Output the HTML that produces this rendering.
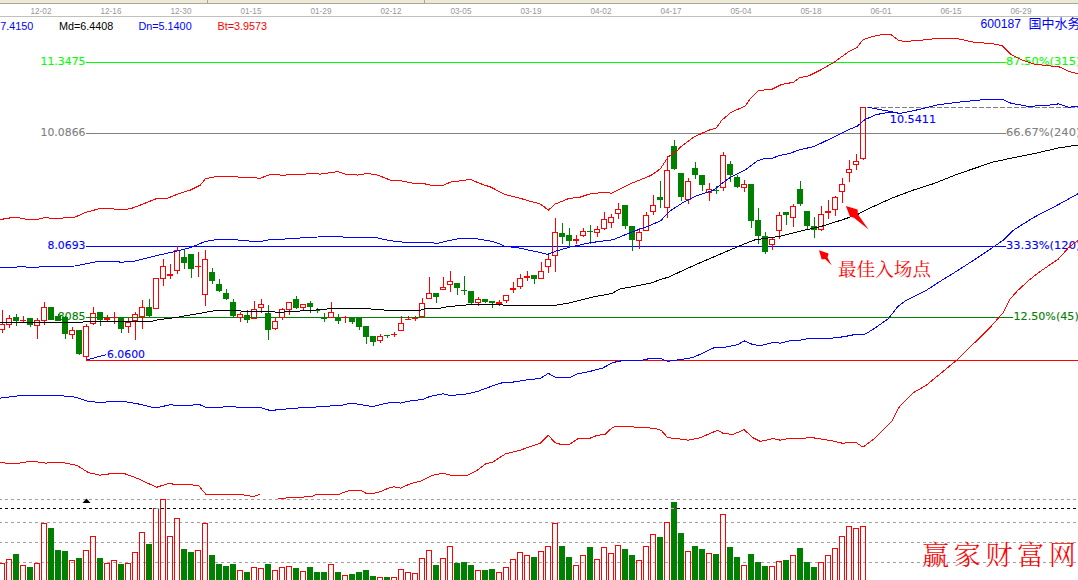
<!DOCTYPE html>
<html lang="zh"><head><meta charset="utf-8"><title>600187 国中水务</title>
<style>html,body{margin:0;padding:0;background:#fff;overflow:hidden}svg{display:block}text{font-family:"Liberation Sans","Noto Sans CJK SC",sans-serif}.v{font-family:"DejaVu Sans","Liberation Sans",sans-serif;font-size:11px}.d{font-size:8.2px;fill:#999}.i{font-size:10.8px}</style></head><body>
<svg width="1078" height="580" viewBox="0 0 1078 580">
<rect x="0" y="0" width="1078" height="580" fill="#fff"/>
<g shape-rendering="crispEdges">
<rect x="0" y="0" width="1078" height="3" fill="#ece9d8"/>
<rect x="0" y="3" width="1078" height="1" fill="#aca899"/>
<rect x="207" y="0" width="1" height="3" fill="#aca899"/><rect x="424" y="0" width="1" height="3" fill="#aca899"/>
<rect x="0" y="16" width="1078" height="1" fill="#c0c0c0"/>
</g>
<text class="d" x="30.5" y="14">12-02</text>
<text class="d" x="100.5" y="14">12-16</text>
<text class="d" x="170.5" y="14">12-30</text>
<text class="d" x="240.5" y="14">01-15</text>
<text class="d" x="310.5" y="14">01-29</text>
<text class="d" x="380.5" y="14">02-12</text>
<text class="d" x="450.5" y="14">03-05</text>
<text class="d" x="520.5" y="14">03-19</text>
<text class="d" x="590.5" y="14">04-02</text>
<text class="d" x="660.5" y="14">04-17</text>
<text class="d" x="730.5" y="14">05-04</text>
<text class="d" x="800.5" y="14">05-18</text>
<text class="d" x="870.5" y="14">06-01</text>
<text class="d" x="940.5" y="14">06-15</text>
<text class="d" x="1010.5" y="14">06-29</text>
<text class="i" x="0.3" y="30" fill="#0000ff">7.4150</text>
<text class="i" x="59" y="30" fill="#000">Md=6.4408</text>
<text class="i" x="138.5" y="30" fill="#0000ff">Dn=5.1400</text>
<text class="i" x="217.5" y="30" fill="#ff0000">Bt=3.9573</text>
<text x="980.5" y="28.4" fill="#0000ff" style="font-size:13px" textLength="40.5" lengthAdjust="spacingAndGlyphs">600187</text>
<text x="1028.6" y="28.2" fill="#0000ff" style="font-size:13px;font-family:'Noto Sans CJK SC',sans-serif;font-weight:400">国中水务</text>
<g shape-rendering="crispEdges" stroke-width="1" fill="none">
<line x1="86" y1="62.5" x2="1006" y2="62.5" stroke="#00ff00"/>
<line x1="86" y1="133.5" x2="1006" y2="133.5" stroke="#808080"/>
<line x1="86" y1="246.5" x2="1006" y2="246.5" stroke="#0000ff"/>
<line x1="86" y1="317.5" x2="1013" y2="317.5" stroke="#008000"/>
<line x1="86" y1="360.5" x2="1078" y2="360.5" stroke="#ff0000"/>
<line x1="867" y1="107.5" x2="1078" y2="107.5" stroke="#808080" stroke-dasharray="5 2"/>
</g>
<line x1="86.5" y1="360" x2="106.5" y2="354.5" stroke="#0000ff" stroke-width="1" shape-rendering="crispEdges"/>
<line x1="868" y1="107.3" x2="900" y2="113.3" stroke="#0000ff" stroke-width="1" shape-rendering="crispEdges"/>
<text class="v" x="40.5" y="65" fill="#00ff00" stroke="#00ff00" stroke-width="0.1" text-anchor="start" textLength="45" lengthAdjust="spacingAndGlyphs">11.3475</text>
<text class="v" x="40.5" y="136" fill="#808080" stroke="#808080" stroke-width="0.1" text-anchor="start" textLength="45" lengthAdjust="spacingAndGlyphs">10.0866</text>
<text class="v" x="47.5" y="249" fill="#0000ff" stroke="#0000ff" stroke-width="0.1" text-anchor="start" textLength="38" lengthAdjust="spacingAndGlyphs">8.0693</text>
<text class="v" x="47.5" y="320" fill="#008000" stroke="#008000" stroke-width="0.1" text-anchor="start" textLength="38" lengthAdjust="spacingAndGlyphs">6.8085</text>
<text class="v" x="107" y="358" fill="#0000ff" stroke="#0000ff" stroke-width="0.1" text-anchor="start" textLength="38" lengthAdjust="spacingAndGlyphs">6.0600</text>
<text class="v" x="889.8" y="123" fill="#0000ff" stroke="#0000ff" stroke-width="0.1" text-anchor="start" textLength="46.2" lengthAdjust="spacingAndGlyphs">10.5411</text>
<text class="v" x="1006" y="65" fill="#00ff00" stroke="#00ff00" stroke-width="0.1" text-anchor="start" textLength="74.4" lengthAdjust="spacingAndGlyphs">87.50%(315)</text>
<text class="v" x="1006" y="136" fill="#808080" stroke="#808080" stroke-width="0.1" text-anchor="start" textLength="74.4" lengthAdjust="spacingAndGlyphs">66.67%(240)</text>
<text class="v" x="1006" y="249" fill="#0000ff" stroke="#0000ff" stroke-width="0.1" text-anchor="start" textLength="74.4" lengthAdjust="spacingAndGlyphs">33.33%(120)</text>
<text class="v" x="1013.5" y="320" fill="#008000" stroke="#008000" stroke-width="0.1" text-anchor="start" textLength="65.3" lengthAdjust="spacingAndGlyphs">12.50%(45)</text>
<g shape-rendering="crispEdges" stroke-width="1">
<rect x="-0.5" y="324.5" width="5" height="5" fill="none" stroke="#ff0000"/>
<line x1="2.5" y1="310" x2="2.5" y2="324" stroke="#ff0000"/>
<line x1="2.5" y1="330" x2="2.5" y2="333" stroke="#ff0000"/>
<rect x="6.5" y="318.5" width="5" height="6" fill="none" stroke="#ff0000"/>
<line x1="9.5" y1="315" x2="9.5" y2="318" stroke="#ff0000"/>
<line x1="9.5" y1="325" x2="9.5" y2="328" stroke="#ff0000"/>
<rect x="13" y="317" width="6" height="4" fill="#008000" stroke="none"/>
<line x1="16.5" y1="314" x2="16.5" y2="326" stroke="#008000"/>
<rect x="20" y="320" width="6" height="1" fill="#ff0000" stroke="none"/>
<line x1="23.5" y1="316" x2="23.5" y2="323" stroke="#ff0000"/>
<rect x="27" y="318" width="6" height="7" fill="#008000" stroke="none"/>
<line x1="30.5" y1="318" x2="30.5" y2="327" stroke="#008000"/>
<rect x="34.5" y="320.5" width="5" height="5" fill="none" stroke="#ff0000"/>
<line x1="37.5" y1="318" x2="37.5" y2="320" stroke="#ff0000"/>
<line x1="37.5" y1="326" x2="37.5" y2="339" stroke="#ff0000"/>
<rect x="41.5" y="307.5" width="5" height="13" fill="none" stroke="#ff0000"/>
<line x1="44.5" y1="302" x2="44.5" y2="307" stroke="#ff0000"/>
<line x1="44.5" y1="321" x2="44.5" y2="325" stroke="#ff0000"/>
<rect x="48" y="307" width="6" height="13" fill="#008000" stroke="none"/>
<rect x="55" y="316" width="6" height="5" fill="#008000" stroke="none"/>
<line x1="58.5" y1="314" x2="58.5" y2="321" stroke="#008000"/>
<rect x="62" y="317" width="6" height="17" fill="#008000" stroke="none"/>
<line x1="65.5" y1="316" x2="65.5" y2="339" stroke="#008000"/>
<rect x="69.5" y="330.5" width="5" height="4" fill="none" stroke="#ff0000"/>
<line x1="72.5" y1="327" x2="72.5" y2="330" stroke="#ff0000"/>
<line x1="72.5" y1="335" x2="72.5" y2="339" stroke="#ff0000"/>
<rect x="76" y="330" width="6" height="24" fill="#008000" stroke="none"/>
<line x1="79.5" y1="330" x2="79.5" y2="355" stroke="#008000"/>
<rect x="83.5" y="326.5" width="5" height="30" fill="none" stroke="#ff0000"/>
<line x1="86.5" y1="324" x2="86.5" y2="326" stroke="#ff0000"/>
<line x1="86.5" y1="357" x2="86.5" y2="361" stroke="#ff0000"/>
<rect x="90.5" y="313.5" width="5" height="10" fill="none" stroke="#ff0000"/>
<line x1="93.5" y1="307" x2="93.5" y2="313" stroke="#ff0000"/>
<line x1="93.5" y1="324" x2="93.5" y2="325" stroke="#ff0000"/>
<rect x="97" y="312" width="6" height="8" fill="#008000" stroke="none"/>
<line x1="100.5" y1="312" x2="100.5" y2="326" stroke="#008000"/>
<rect x="104" y="318" width="6" height="2" fill="#ff0000" stroke="none"/>
<line x1="107.5" y1="315" x2="107.5" y2="321" stroke="#ff0000"/>
<rect x="111" y="317" width="6" height="1" fill="#ff0000" stroke="none"/>
<line x1="114.5" y1="312" x2="114.5" y2="324" stroke="#ff0000"/>
<rect x="118" y="317" width="6" height="12" fill="#008000" stroke="none"/>
<line x1="121.5" y1="317" x2="121.5" y2="333" stroke="#008000"/>
<rect x="125.5" y="322.5" width="5" height="4" fill="none" stroke="#ff0000"/>
<line x1="128.5" y1="317" x2="128.5" y2="322" stroke="#ff0000"/>
<line x1="128.5" y1="327" x2="128.5" y2="333" stroke="#ff0000"/>
<rect x="132.5" y="314.5" width="5" height="6" fill="none" stroke="#ff0000"/>
<line x1="135.5" y1="312" x2="135.5" y2="314" stroke="#ff0000"/>
<line x1="135.5" y1="321" x2="135.5" y2="340" stroke="#ff0000"/>
<rect x="139.5" y="307.5" width="5" height="9" fill="none" stroke="#ff0000"/>
<line x1="142.5" y1="300" x2="142.5" y2="307" stroke="#ff0000"/>
<line x1="142.5" y1="317" x2="142.5" y2="329" stroke="#ff0000"/>
<rect x="146" y="307" width="6" height="9" fill="#008000" stroke="none"/>
<line x1="149.5" y1="299" x2="149.5" y2="317" stroke="#008000"/>
<rect x="153.5" y="278.5" width="5" height="30" fill="none" stroke="#ff0000"/>
<rect x="160.5" y="266.5" width="5" height="12" fill="none" stroke="#ff0000"/>
<line x1="163.5" y1="259" x2="163.5" y2="266" stroke="#ff0000"/>
<line x1="163.5" y1="279" x2="163.5" y2="286" stroke="#ff0000"/>
<rect x="167" y="274" width="6" height="2" fill="#ff0000" stroke="none"/>
<line x1="170.5" y1="264" x2="170.5" y2="279" stroke="#ff0000"/>
<rect x="174.5" y="250.5" width="5" height="20" fill="none" stroke="#ff0000"/>
<line x1="177.5" y1="246" x2="177.5" y2="250" stroke="#ff0000"/>
<line x1="177.5" y1="271" x2="177.5" y2="274" stroke="#ff0000"/>
<rect x="181" y="257" width="6" height="6" fill="#008000" stroke="none"/>
<line x1="184.5" y1="250" x2="184.5" y2="269" stroke="#008000"/>
<rect x="188" y="254" width="6" height="15" fill="#008000" stroke="none"/>
<line x1="191.5" y1="254" x2="191.5" y2="278" stroke="#008000"/>
<rect x="195" y="266" width="6" height="1" fill="#ff0000" stroke="none"/>
<line x1="198.5" y1="252" x2="198.5" y2="277" stroke="#ff0000"/>
<rect x="202.5" y="259.5" width="5" height="35" fill="none" stroke="#ff0000"/>
<line x1="205.5" y1="250" x2="205.5" y2="259" stroke="#ff0000"/>
<line x1="205.5" y1="295" x2="205.5" y2="306" stroke="#ff0000"/>
<rect x="209" y="272" width="6" height="9" fill="#008000" stroke="none"/>
<line x1="212.5" y1="268" x2="212.5" y2="284" stroke="#008000"/>
<rect x="216" y="284" width="6" height="7" fill="#008000" stroke="none"/>
<line x1="219.5" y1="279" x2="219.5" y2="292" stroke="#008000"/>
<rect x="223" y="293" width="6" height="6" fill="#008000" stroke="none"/>
<line x1="226.5" y1="289" x2="226.5" y2="300" stroke="#008000"/>
<rect x="230" y="302" width="6" height="14" fill="#008000" stroke="none"/>
<line x1="233.5" y1="299" x2="233.5" y2="317" stroke="#008000"/>
<rect x="237.5" y="314.5" width="5" height="3" fill="none" stroke="#ff0000"/>
<line x1="240.5" y1="312" x2="240.5" y2="314" stroke="#ff0000"/>
<line x1="240.5" y1="318" x2="240.5" y2="322" stroke="#ff0000"/>
<rect x="244" y="315" width="6" height="5" fill="#008000" stroke="none"/>
<line x1="247.5" y1="310" x2="247.5" y2="323" stroke="#008000"/>
<rect x="251.5" y="309.5" width="5" height="9" fill="none" stroke="#ff0000"/>
<line x1="254.5" y1="301" x2="254.5" y2="309" stroke="#ff0000"/>
<rect x="258.5" y="304.5" width="5" height="3" fill="none" stroke="#ff0000"/>
<line x1="261.5" y1="299" x2="261.5" y2="304" stroke="#ff0000"/>
<line x1="261.5" y1="308" x2="261.5" y2="313" stroke="#ff0000"/>
<rect x="265" y="313" width="6" height="17" fill="#008000" stroke="none"/>
<line x1="268.5" y1="305" x2="268.5" y2="340" stroke="#008000"/>
<rect x="272.5" y="321.5" width="5" height="7" fill="none" stroke="#ff0000"/>
<line x1="275.5" y1="318" x2="275.5" y2="321" stroke="#ff0000"/>
<line x1="275.5" y1="329" x2="275.5" y2="330" stroke="#ff0000"/>
<rect x="279.5" y="309.5" width="5" height="8" fill="none" stroke="#ff0000"/>
<line x1="282.5" y1="308" x2="282.5" y2="309" stroke="#ff0000"/>
<line x1="282.5" y1="318" x2="282.5" y2="320" stroke="#ff0000"/>
<rect x="286.5" y="302.5" width="5" height="7" fill="none" stroke="#ff0000"/>
<line x1="289.5" y1="310" x2="289.5" y2="315" stroke="#ff0000"/>
<rect x="293" y="299" width="6" height="9" fill="#008000" stroke="none"/>
<line x1="296.5" y1="296" x2="296.5" y2="309" stroke="#008000"/>
<rect x="300.5" y="304.5" width="5" height="3" fill="none" stroke="#ff0000"/>
<line x1="303.5" y1="308" x2="303.5" y2="311" stroke="#ff0000"/>
<rect x="307" y="303" width="6" height="4" fill="#008000" stroke="none"/>
<line x1="310.5" y1="301" x2="310.5" y2="313" stroke="#008000"/>
<rect x="314" y="310" width="6" height="1" fill="#008000" stroke="none"/>
<line x1="317.5" y1="308" x2="317.5" y2="313" stroke="#008000"/>
<rect x="321" y="318" width="6" height="1" fill="#008000" stroke="none"/>
<line x1="324.5" y1="313" x2="324.5" y2="322" stroke="#008000"/>
<rect x="328.5" y="312.5" width="5" height="5" fill="none" stroke="#ff0000"/>
<line x1="331.5" y1="302" x2="331.5" y2="312" stroke="#ff0000"/>
<rect x="335" y="317" width="6" height="4" fill="#008000" stroke="none"/>
<line x1="338.5" y1="314" x2="338.5" y2="324" stroke="#008000"/>
<rect x="342" y="317" width="6" height="1" fill="#ff0000" stroke="none"/>
<line x1="345.5" y1="316" x2="345.5" y2="323" stroke="#ff0000"/>
<rect x="349" y="317" width="6" height="5" fill="#008000" stroke="none"/>
<line x1="352.5" y1="317" x2="352.5" y2="324" stroke="#008000"/>
<rect x="356" y="317" width="6" height="10" fill="#008000" stroke="none"/>
<line x1="359.5" y1="317" x2="359.5" y2="330" stroke="#008000"/>
<rect x="363" y="326" width="6" height="11" fill="#008000" stroke="none"/>
<line x1="366.5" y1="326" x2="366.5" y2="344" stroke="#008000"/>
<rect x="370" y="336" width="6" height="6" fill="#008000" stroke="none"/>
<line x1="373.5" y1="336" x2="373.5" y2="346" stroke="#008000"/>
<rect x="377.5" y="336.5" width="5" height="4" fill="none" stroke="#ff0000"/>
<line x1="380.5" y1="334" x2="380.5" y2="336" stroke="#ff0000"/>
<line x1="380.5" y1="341" x2="380.5" y2="343" stroke="#ff0000"/>
<rect x="384" y="335" width="6" height="1" fill="#008000" stroke="none"/>
<line x1="387.5" y1="335" x2="387.5" y2="338" stroke="#008000"/>
<rect x="391" y="334" width="6" height="1" fill="#ff0000" stroke="none"/>
<line x1="394.5" y1="332" x2="394.5" y2="337" stroke="#ff0000"/>
<rect x="398.5" y="323.5" width="5" height="7" fill="none" stroke="#ff0000"/>
<line x1="401.5" y1="316" x2="401.5" y2="323" stroke="#ff0000"/>
<rect x="405" y="319" width="6" height="1" fill="#ff0000" stroke="none"/>
<line x1="408.5" y1="316" x2="408.5" y2="320" stroke="#ff0000"/>
<rect x="412" y="318" width="6" height="1" fill="#ff0000" stroke="none"/>
<line x1="415.5" y1="316" x2="415.5" y2="321" stroke="#ff0000"/>
<rect x="419.5" y="303.5" width="5" height="13" fill="none" stroke="#ff0000"/>
<line x1="422.5" y1="298" x2="422.5" y2="303" stroke="#ff0000"/>
<rect x="426.5" y="293.5" width="5" height="5" fill="none" stroke="#ff0000"/>
<line x1="429.5" y1="277" x2="429.5" y2="293" stroke="#ff0000"/>
<rect x="433" y="293" width="6" height="4" fill="#008000" stroke="none"/>
<line x1="436.5" y1="293" x2="436.5" y2="303" stroke="#008000"/>
<rect x="440.5" y="287.5" width="5" height="2" fill="none" stroke="#ff0000"/>
<line x1="443.5" y1="277" x2="443.5" y2="287" stroke="#ff0000"/>
<rect x="447.5" y="281.5" width="5" height="3" fill="none" stroke="#ff0000"/>
<line x1="450.5" y1="271" x2="450.5" y2="281" stroke="#ff0000"/>
<line x1="450.5" y1="285" x2="450.5" y2="292" stroke="#ff0000"/>
<rect x="454" y="283" width="6" height="5" fill="#008000" stroke="none"/>
<line x1="457.5" y1="283" x2="457.5" y2="295" stroke="#008000"/>
<rect x="461" y="290" width="6" height="1" fill="#008000" stroke="none"/>
<line x1="464.5" y1="276" x2="464.5" y2="295" stroke="#008000"/>
<rect x="468" y="291" width="6" height="12" fill="#008000" stroke="none"/>
<line x1="471.5" y1="291" x2="471.5" y2="304" stroke="#008000"/>
<rect x="475.5" y="299.5" width="5" height="3" fill="none" stroke="#ff0000"/>
<line x1="478.5" y1="297" x2="478.5" y2="299" stroke="#ff0000"/>
<line x1="478.5" y1="303" x2="478.5" y2="306" stroke="#ff0000"/>
<rect x="482" y="299" width="6" height="3" fill="#008000" stroke="none"/>
<line x1="485.5" y1="299" x2="485.5" y2="303" stroke="#008000"/>
<rect x="489" y="301" width="6" height="2" fill="#008000" stroke="none"/>
<line x1="492.5" y1="301" x2="492.5" y2="308" stroke="#008000"/>
<rect x="496" y="302" width="6" height="2" fill="#ff0000" stroke="none"/>
<line x1="499.5" y1="300" x2="499.5" y2="306" stroke="#ff0000"/>
<rect x="503.5" y="295.5" width="5" height="5" fill="none" stroke="#ff0000"/>
<line x1="506.5" y1="301" x2="506.5" y2="303" stroke="#ff0000"/>
<rect x="510" y="288" width="6" height="2" fill="#ff0000" stroke="none"/>
<line x1="513.5" y1="282" x2="513.5" y2="293" stroke="#ff0000"/>
<rect x="517.5" y="278.5" width="5" height="8" fill="none" stroke="#ff0000"/>
<line x1="520.5" y1="274" x2="520.5" y2="278" stroke="#ff0000"/>
<line x1="520.5" y1="287" x2="520.5" y2="289" stroke="#ff0000"/>
<rect x="524" y="276" width="6" height="2" fill="#ff0000" stroke="none"/>
<line x1="527.5" y1="271" x2="527.5" y2="281" stroke="#ff0000"/>
<rect x="531" y="275" width="6" height="4" fill="#008000" stroke="none"/>
<line x1="534.5" y1="275" x2="534.5" y2="284" stroke="#008000"/>
<rect x="538.5" y="271.5" width="5" height="7" fill="none" stroke="#ff0000"/>
<line x1="541.5" y1="262" x2="541.5" y2="271" stroke="#ff0000"/>
<rect x="545.5" y="259.5" width="5" height="7" fill="none" stroke="#ff0000"/>
<line x1="548.5" y1="254" x2="548.5" y2="259" stroke="#ff0000"/>
<line x1="548.5" y1="267" x2="548.5" y2="273" stroke="#ff0000"/>
<rect x="552.5" y="232.5" width="5" height="23" fill="none" stroke="#ff0000"/>
<line x1="555.5" y1="218" x2="555.5" y2="232" stroke="#ff0000"/>
<line x1="555.5" y1="256" x2="555.5" y2="272" stroke="#ff0000"/>
<rect x="559" y="233" width="6" height="4" fill="#008000" stroke="none"/>
<line x1="562.5" y1="223" x2="562.5" y2="244" stroke="#008000"/>
<rect x="566" y="235" width="6" height="6" fill="#008000" stroke="none"/>
<line x1="569.5" y1="228" x2="569.5" y2="247" stroke="#008000"/>
<rect x="573" y="239" width="6" height="2" fill="#ff0000" stroke="none"/>
<line x1="576.5" y1="235" x2="576.5" y2="244" stroke="#ff0000"/>
<rect x="580.5" y="231.5" width="5" height="4" fill="none" stroke="#ff0000"/>
<line x1="583.5" y1="228" x2="583.5" y2="231" stroke="#ff0000"/>
<line x1="583.5" y1="236" x2="583.5" y2="237" stroke="#ff0000"/>
<rect x="587" y="231" width="6" height="1" fill="#008000" stroke="none"/>
<line x1="590.5" y1="225" x2="590.5" y2="244" stroke="#008000"/>
<rect x="594.5" y="229.5" width="5" height="3" fill="none" stroke="#ff0000"/>
<line x1="597.5" y1="226" x2="597.5" y2="229" stroke="#ff0000"/>
<line x1="597.5" y1="233" x2="597.5" y2="237" stroke="#ff0000"/>
<rect x="601.5" y="219.5" width="5" height="9" fill="none" stroke="#ff0000"/>
<line x1="604.5" y1="212" x2="604.5" y2="219" stroke="#ff0000"/>
<line x1="604.5" y1="229" x2="604.5" y2="230" stroke="#ff0000"/>
<rect x="608.5" y="217.5" width="5" height="5" fill="none" stroke="#ff0000"/>
<line x1="611.5" y1="214" x2="611.5" y2="217" stroke="#ff0000"/>
<line x1="611.5" y1="223" x2="611.5" y2="228" stroke="#ff0000"/>
<rect x="615.5" y="209.5" width="5" height="4" fill="none" stroke="#ff0000"/>
<line x1="618.5" y1="203" x2="618.5" y2="209" stroke="#ff0000"/>
<line x1="618.5" y1="214" x2="618.5" y2="219" stroke="#ff0000"/>
<rect x="622" y="205" width="6" height="21" fill="#008000" stroke="none"/>
<line x1="625.5" y1="205" x2="625.5" y2="229" stroke="#008000"/>
<rect x="629" y="226" width="6" height="14" fill="#008000" stroke="none"/>
<line x1="632.5" y1="226" x2="632.5" y2="251" stroke="#008000"/>
<rect x="636.5" y="232.5" width="5" height="8" fill="none" stroke="#ff0000"/>
<line x1="639.5" y1="228" x2="639.5" y2="232" stroke="#ff0000"/>
<line x1="639.5" y1="241" x2="639.5" y2="249" stroke="#ff0000"/>
<rect x="643.5" y="215.5" width="5" height="15" fill="none" stroke="#ff0000"/>
<line x1="646.5" y1="212" x2="646.5" y2="215" stroke="#ff0000"/>
<rect x="650.5" y="205.5" width="5" height="6" fill="none" stroke="#ff0000"/>
<line x1="653.5" y1="195" x2="653.5" y2="205" stroke="#ff0000"/>
<line x1="653.5" y1="212" x2="653.5" y2="215" stroke="#ff0000"/>
<rect x="657" y="197" width="6" height="3" fill="#008000" stroke="none"/>
<line x1="660.5" y1="181" x2="660.5" y2="208" stroke="#008000"/>
<rect x="664.5" y="170.5" width="5" height="37" fill="none" stroke="#ff0000"/>
<line x1="667.5" y1="156" x2="667.5" y2="170" stroke="#ff0000"/>
<line x1="667.5" y1="208" x2="667.5" y2="218" stroke="#ff0000"/>
<rect x="671" y="146" width="6" height="23" fill="#008000" stroke="none"/>
<line x1="674.5" y1="140" x2="674.5" y2="170" stroke="#008000"/>
<rect x="678" y="173" width="6" height="24" fill="#008000" stroke="none"/>
<line x1="681.5" y1="173" x2="681.5" y2="201" stroke="#008000"/>
<rect x="685.5" y="181.5" width="5" height="18" fill="none" stroke="#ff0000"/>
<line x1="688.5" y1="178" x2="688.5" y2="181" stroke="#ff0000"/>
<line x1="688.5" y1="200" x2="688.5" y2="204" stroke="#ff0000"/>
<rect x="692" y="168" width="6" height="7" fill="#008000" stroke="none"/>
<line x1="695.5" y1="162" x2="695.5" y2="179" stroke="#008000"/>
<rect x="699" y="175" width="6" height="10" fill="#008000" stroke="none"/>
<line x1="702.5" y1="175" x2="702.5" y2="191" stroke="#008000"/>
<rect x="706.5" y="189.5" width="5" height="3" fill="none" stroke="#ff0000"/>
<line x1="709.5" y1="183" x2="709.5" y2="189" stroke="#ff0000"/>
<line x1="709.5" y1="193" x2="709.5" y2="201" stroke="#ff0000"/>
<rect x="713" y="190" width="6" height="1" fill="#008000" stroke="none"/>
<line x1="716.5" y1="186" x2="716.5" y2="194" stroke="#008000"/>
<rect x="720.5" y="155.5" width="5" height="32" fill="none" stroke="#ff0000"/>
<line x1="723.5" y1="152" x2="723.5" y2="155" stroke="#ff0000"/>
<line x1="723.5" y1="188" x2="723.5" y2="191" stroke="#ff0000"/>
<rect x="727" y="164" width="6" height="11" fill="#008000" stroke="none"/>
<line x1="730.5" y1="161" x2="730.5" y2="182" stroke="#008000"/>
<rect x="734" y="177" width="6" height="10" fill="#008000" stroke="none"/>
<line x1="737.5" y1="175" x2="737.5" y2="188" stroke="#008000"/>
<rect x="741.5" y="184.5" width="5" height="3" fill="none" stroke="#ff0000"/>
<line x1="744.5" y1="180" x2="744.5" y2="184" stroke="#ff0000"/>
<line x1="744.5" y1="188" x2="744.5" y2="192" stroke="#ff0000"/>
<rect x="748" y="184" width="6" height="37" fill="#008000" stroke="none"/>
<line x1="751.5" y1="184" x2="751.5" y2="228" stroke="#008000"/>
<rect x="755" y="220" width="6" height="16" fill="#008000" stroke="none"/>
<line x1="758.5" y1="208" x2="758.5" y2="244" stroke="#008000"/>
<rect x="762" y="236" width="6" height="16" fill="#008000" stroke="none"/>
<line x1="765.5" y1="232" x2="765.5" y2="254" stroke="#008000"/>
<rect x="769.5" y="239.5" width="5" height="5" fill="none" stroke="#ff0000"/>
<line x1="772.5" y1="237" x2="772.5" y2="239" stroke="#ff0000"/>
<line x1="772.5" y1="245" x2="772.5" y2="250" stroke="#ff0000"/>
<rect x="776.5" y="215.5" width="5" height="15" fill="none" stroke="#ff0000"/>
<line x1="779.5" y1="212" x2="779.5" y2="215" stroke="#ff0000"/>
<line x1="779.5" y1="231" x2="779.5" y2="239" stroke="#ff0000"/>
<rect x="783" y="212" width="6" height="3" fill="#008000" stroke="none"/>
<line x1="786.5" y1="212" x2="786.5" y2="225" stroke="#008000"/>
<rect x="790.5" y="206.5" width="5" height="11" fill="none" stroke="#ff0000"/>
<line x1="793.5" y1="204" x2="793.5" y2="206" stroke="#ff0000"/>
<line x1="793.5" y1="218" x2="793.5" y2="227" stroke="#ff0000"/>
<rect x="797" y="189" width="6" height="15" fill="#008000" stroke="none"/>
<line x1="800.5" y1="181" x2="800.5" y2="206" stroke="#008000"/>
<rect x="804" y="211" width="6" height="15" fill="#008000" stroke="none"/>
<line x1="807.5" y1="211" x2="807.5" y2="230" stroke="#008000"/>
<rect x="811" y="226" width="6" height="4" fill="#008000" stroke="none"/>
<line x1="814.5" y1="217" x2="814.5" y2="238" stroke="#008000"/>
<rect x="818.5" y="214.5" width="5" height="15" fill="none" stroke="#ff0000"/>
<line x1="821.5" y1="206" x2="821.5" y2="214" stroke="#ff0000"/>
<line x1="821.5" y1="230" x2="821.5" y2="231" stroke="#ff0000"/>
<rect x="825" y="211" width="6" height="2" fill="#ff0000" stroke="none"/>
<line x1="828.5" y1="200" x2="828.5" y2="219" stroke="#ff0000"/>
<rect x="832.5" y="197.5" width="5" height="12" fill="none" stroke="#ff0000"/>
<line x1="835.5" y1="196" x2="835.5" y2="197" stroke="#ff0000"/>
<line x1="835.5" y1="210" x2="835.5" y2="216" stroke="#ff0000"/>
<rect x="839.5" y="184.5" width="5" height="7" fill="none" stroke="#ff0000"/>
<line x1="842.5" y1="178" x2="842.5" y2="184" stroke="#ff0000"/>
<line x1="842.5" y1="192" x2="842.5" y2="203" stroke="#ff0000"/>
<rect x="846.5" y="169.5" width="5" height="3" fill="none" stroke="#ff0000"/>
<line x1="849.5" y1="160" x2="849.5" y2="169" stroke="#ff0000"/>
<line x1="849.5" y1="173" x2="849.5" y2="182" stroke="#ff0000"/>
<rect x="853.5" y="161.5" width="5" height="3" fill="none" stroke="#ff0000"/>
<line x1="856.5" y1="154" x2="856.5" y2="161" stroke="#ff0000"/>
<line x1="856.5" y1="165" x2="856.5" y2="170" stroke="#ff0000"/>
<rect x="860.5" y="107.5" width="5" height="51" fill="none" stroke="#ff0000"/>
<line x1="863.5" y1="159" x2="863.5" y2="160" stroke="#ff0000"/>
</g>
<clipPath id="c"><rect x="0" y="17" width="1078" height="483"/></clipPath>
<g clip-path="url(#c)" fill="none" stroke-width="1" shape-rendering="crispEdges">
<polyline points="0.0,219.6 15.0,217.1 27.5,219.4 37.6,219.4 45.1,217.6 55.1,218.6 75.1,217.1 85.2,212.6 100.2,208.4 110.2,208.4 117.7,209.6 130.2,208.9 140.2,205.1 157.8,198.1 167.8,198.1 180.3,193.1 190.3,190.1 200.4,185.1 205.4,178.8 217.9,176.3 235.4,176.3 240.4,177.6 260.5,178.1 270.0,174.6 282.5,175.1 302.6,174.6 310.0,173.4 320.0,174.1 337.6,171.6 345.1,174.1 357.7,175.1 367.7,173.4 377.7,175.1 390.2,180.1 400.2,180.6 412.7,183.1 422.8,183.4 430.3,185.1 444.0,185.1 450.3,182.1 460.3,180.9 470.3,179.4 482.9,184.6 490.4,186.9 505.4,194.7 520.4,198.4 530.5,201.4 540.0,203.9 545.0,207.4 548.2,210.3 555.3,204.0 568.5,198.6 580.2,197.1 589.0,194.2 603.7,192.3 611.7,193.2 630.0,183.9 650.6,175.6 657.9,170.7 660.9,168.0 668.2,157.0 677.0,151.1 680.0,147.3 693.4,137.3 708.4,130.3 716.0,128.3 721.8,120.2 731.0,112.4 745.2,106.0 750.3,98.8 758.3,90.5 772.0,89.3 782.0,84.3 793.7,82.3 799.6,77.6 808.0,76.2 818.8,70.9 833.9,62.5 848.0,52.1 856.8,47.6 863.1,39.6 873.1,36.3 883.1,34.3 890.6,34.3 898.2,40.1 903.2,41.3 915.7,40.8 938.2,38.3 955.8,38.3 973.3,42.1 993.3,43.8 1002.1,45.8 1010.9,54.6 1020.9,59.6 1033.4,63.9 1048.4,65.9 1058.4,66.4 1068.5,71.4 1078.0,73.9" stroke="#ff0000"/>
<polyline points="0.0,267.7 25.0,266.7 27.5,267.7 37.6,267.7 40.0,266.7 75.1,266.0 97.7,261.5 117.7,261.5 120.2,262.2 132.7,261.5 155.3,255.9 175.3,251.4 190.3,247.7 205.4,241.4 217.9,239.4 235.4,239.4 240.4,240.7 260.5,241.4 270.0,239.7 285.0,239.0 307.6,237.5 327.6,236.5 340.1,236.5 345.1,237.5 375.2,237.5 390.2,240.7 405.2,242.3 430.3,242.3 436.5,243.5 455.3,239.2 462.8,238.2 472.9,238.2 490.4,241.0 500.0,244.0 504.4,246.3 517.6,247.7 538.0,252.1 547.7,254.3 557.2,250.7 570.4,247.0 591.0,242.6 613.0,239.7 633.0,231.6 647.6,226.5 660.8,220.6 669.7,211.2 684.3,201.7 697.5,195.4 713.7,190.0 723.9,181.9 731.2,176.8 745.9,169.5 757.6,160.7 765.0,158.5 772.3,158.2 779.6,155.5 790.0,153.3 800.4,149.5 813.8,146.7 830.6,138.6 847.3,130.3 857.3,126.1 864.5,119.9 875.6,114.7 888.1,112.5 900.7,113.2 915.7,110.2 938.2,104.7 958.3,102.2 983.3,99.7 1003.3,99.7 1010.9,103.2 1028.4,106.4 1048.4,105.2 1058.4,103.9 1068.5,107.2 1078.0,106.4" stroke="#0000ff"/>
<polyline points="0.0,322.5 82.0,322.5 84.0,321.5 152.0,321.5 153.5,320.5 160.0,319.6 167.0,318.6 175.3,317.6 215.4,310.6 235.4,310.6 250.0,311.7 272.0,311.7 279.3,312.4 292.5,311.4 314.5,310.2 320.4,309.5 335.0,308.4 370.2,308.4 371.7,309.5 383.8,309.3 384.5,310.5 419.0,310.5 424.9,308.7 439.5,308.3 446.8,306.8 461.5,305.3 477.6,304.3 501.0,304.3 504.0,305.3 523.5,305.6 551.3,306.0 570.4,302.7 593.8,296.8 611.7,293.6 620.0,288.9 633.5,286.6 653.5,282.4 660.2,279.4 668.6,277.2 687.0,268.5 707.0,259.8 723.8,252.6 742.2,244.8 753.9,240.1 767.3,238.1 780.0,236.2 798.7,231.5 820.6,226.6 842.6,219.7 857.3,214.6 868.1,208.9 893.2,197.6 913.2,190.1 933.2,183.8 958.3,173.8 993.3,162.0 1008.4,158.8 1033.4,153.8 1058.4,148.0 1078.0,145.0" stroke="#000"/>
<polyline points="0.0,398.2 19.7,395.6 60.6,395.6 75.4,397.2 88.5,401.5 101.6,402.5 111.4,401.5 124.5,401.5 137.6,403.8 155.6,408.0 170.4,404.7 178.6,405.7 199.9,404.7 204.8,407.0 222.8,407.0 229.4,406.4 245.7,408.0 260.5,407.4 270.0,410.5 280.0,409.6 295.0,408.1 312.6,407.6 320.0,406.4 340.1,405.6 350.1,403.4 357.7,404.1 372.7,406.6 380.2,404.6 392.7,402.1 400.2,403.1 410.2,400.9 422.8,399.4 430.3,396.3 442.8,393.8 450.3,395.6 467.8,393.8 477.9,391.3 487.9,387.6 500.4,383.1 512.9,382.1 525.4,380.1 540.0,378.5 548.3,373.4 555.0,377.1 570.0,377.6 577.6,373.9 590.1,371.4 602.6,368.1 612.6,362.6 622.6,360.6 642.7,360.1 650.2,358.4 660.2,358.4 667.7,361.4 680.2,359.6 692.8,357.6 702.8,353.1 715.3,347.1 725.3,347.1 737.8,344.6 744.1,340.8 752.9,344.6 760.4,345.6 772.9,342.6 780.4,343.1 790.4,340.6 800.5,340.1 810.0,338.2 830.9,338.3 844.0,336.7 857.1,334.1 863.7,335.0 873.5,329.1 888.3,318.7 898.1,306.2 906.3,300.3 926.0,290.5 942.3,280.0 958.3,270.2 983.3,253.9 1003.3,240.2 1013.4,230.2 1033.4,217.6 1058.4,204.6 1078.0,193.8" stroke="#0000ff"/>
<polyline points="0.0,462.7 16.4,463.7 31.1,461.1 45.9,463.1 60.6,462.1 77.0,465.4 88.5,472.6 99.9,475.2 111.4,473.6 124.5,473.6 137.6,478.5 156.6,487.3 168.7,483.4 178.6,485.0 190.0,484.4 198.9,486.0 205.8,494.2 240.0,494.3 245.6,495.2 253.0,496.5 260.4,494.3" stroke="#ff0000"/>
<polyline points="274.6,499.5 286.4,498.0 299.4,497.5 312.4,496.2 317.0,494.3 339.3,494.3 345.8,491.5 351.3,490.0 360.6,490.0 366.2,493.4 373.6,493.4 381.0,491.5 388.4,488.2 394.0,486.7 400.5,488.2 410.7,483.6 421.8,480.8 432.9,475.2 442.8,473.2 450.3,475.2 467.8,475.2 475.4,471.5 485.4,464.0 492.9,462.0 505.4,453.9 520.4,450.2 530.5,446.4 540.0,443.5 548.3,435.2 555.0,442.8 562.5,444.8 570.0,444.0 577.6,439.0 590.1,438.2 597.6,435.2 605.1,434.5 612.6,427.2 620.1,426.0 627.7,426.5 642.7,427.7 655.2,428.2 661.5,430.7 667.7,437.7 680.2,439.0 687.8,440.2 700.3,437.7 717.8,430.2 722.8,433.2 732.8,434.5 744.1,429.7 752.9,437.7 760.4,441.5 772.9,438.5 780.4,440.2 790.4,438.2 800.5,439.0 810.0,437.3 830.9,440.6 842.4,443.2 855.5,442.2 863.0,447.1 875.2,437.9 891.6,421.5 899.7,406.1 912.8,393.0 926.0,385.5 955.4,361.3 971.8,345.5 991.5,325.9 1003.0,312.8 1009.5,299.7 1017.7,290.5 1029.2,280.0 1038.4,272.7 1058.4,259.0 1068.5,247.7 1078.0,240.2" stroke="#ff0000"/>
</g>
<g shape-rendering="crispEdges" stroke-width="1" fill="none">
<line x1="-1" y1="499.5" x2="1078" y2="499.5" stroke="#a0a0a0" stroke-dasharray="3 3"/>
<line x1="-1" y1="522.5" x2="1078" y2="522.5" stroke="#a0a0a0" stroke-dasharray="3 3"/>
<line x1="-1" y1="542.5" x2="1078" y2="542.5" stroke="#a0a0a0" stroke-dasharray="3 3"/>
<line x1="-1" y1="562.5" x2="1078" y2="562.5" stroke="#a0a0a0" stroke-dasharray="3 3"/>
<line x1="-1" y1="508.5" x2="1078" y2="508.5" stroke="#000" stroke-dasharray="3 3"/>
</g>
<polygon points="86.5,498.5 82.5,503 90.5,503" fill="#000"/>
<g shape-rendering="crispEdges" stroke-width="1">
<rect x="-0.5" y="563.5" width="5" height="100" fill="none" stroke="#ff0000"/>
<rect x="6.5" y="559.5" width="5" height="100" fill="none" stroke="#ff0000"/>
<rect x="13" y="554" width="6" height="100" fill="#008000"/>
<rect x="20.5" y="565.5" width="5" height="100" fill="none" stroke="#ff0000"/>
<rect x="27" y="567" width="6" height="100" fill="#008000"/>
<rect x="34.5" y="563.5" width="5" height="100" fill="none" stroke="#ff0000"/>
<rect x="41.5" y="523.5" width="5" height="100" fill="none" stroke="#ff0000"/>
<rect x="48" y="528" width="6" height="100" fill="#008000"/>
<rect x="55" y="550" width="6" height="100" fill="#008000"/>
<rect x="62" y="551" width="6" height="100" fill="#008000"/>
<rect x="69.5" y="560.5" width="5" height="100" fill="none" stroke="#ff0000"/>
<rect x="76" y="558" width="6" height="100" fill="#008000"/>
<rect x="83.5" y="550.5" width="5" height="100" fill="none" stroke="#ff0000"/>
<rect x="90.5" y="536.5" width="5" height="100" fill="none" stroke="#ff0000"/>
<rect x="97" y="558" width="6" height="100" fill="#008000"/>
<rect x="104.5" y="563.5" width="5" height="100" fill="none" stroke="#ff0000"/>
<rect x="111.5" y="560.5" width="5" height="100" fill="none" stroke="#ff0000"/>
<rect x="118" y="564" width="6" height="100" fill="#008000"/>
<rect x="125.5" y="563.5" width="5" height="100" fill="none" stroke="#ff0000"/>
<rect x="132.5" y="552.5" width="5" height="100" fill="none" stroke="#ff0000"/>
<rect x="139.5" y="532.5" width="5" height="100" fill="none" stroke="#ff0000"/>
<rect x="146" y="544" width="6" height="100" fill="#008000"/>
<rect x="153.5" y="508.5" width="5" height="100" fill="none" stroke="#ff0000"/>
<rect x="160.5" y="499.5" width="5" height="100" fill="none" stroke="#ff0000"/>
<rect x="167.5" y="536.5" width="5" height="100" fill="none" stroke="#ff0000"/>
<rect x="174.5" y="518.5" width="5" height="100" fill="none" stroke="#ff0000"/>
<rect x="181" y="549" width="6" height="100" fill="#008000"/>
<rect x="188" y="552" width="6" height="100" fill="#008000"/>
<rect x="195.5" y="550.5" width="5" height="100" fill="none" stroke="#ff0000"/>
<rect x="202.5" y="523.5" width="5" height="100" fill="none" stroke="#ff0000"/>
<rect x="209" y="555" width="6" height="100" fill="#008000"/>
<rect x="216" y="564" width="6" height="100" fill="#008000"/>
<rect x="223" y="566" width="6" height="100" fill="#008000"/>
<rect x="230" y="564" width="6" height="100" fill="#008000"/>
<rect x="237.5" y="570.5" width="5" height="100" fill="none" stroke="#ff0000"/>
<rect x="244" y="572" width="6" height="100" fill="#008000"/>
<rect x="251.5" y="567.5" width="5" height="100" fill="none" stroke="#ff0000"/>
<rect x="258.5" y="568.5" width="5" height="100" fill="none" stroke="#ff0000"/>
<rect x="265" y="564" width="6" height="100" fill="#008000"/>
<rect x="272.5" y="570.5" width="5" height="100" fill="none" stroke="#ff0000"/>
<rect x="279.5" y="567.5" width="5" height="100" fill="none" stroke="#ff0000"/>
<rect x="286.5" y="566.5" width="5" height="100" fill="none" stroke="#ff0000"/>
<rect x="293" y="568" width="6" height="100" fill="#008000"/>
<rect x="300.5" y="571.5" width="5" height="100" fill="none" stroke="#ff0000"/>
<rect x="307" y="567" width="6" height="100" fill="#008000"/>
<rect x="314" y="572" width="6" height="100" fill="#008000"/>
<rect x="321" y="572" width="6" height="100" fill="#008000"/>
<rect x="328.5" y="564.5" width="5" height="100" fill="none" stroke="#ff0000"/>
<rect x="335" y="572" width="6" height="100" fill="#008000"/>
<rect x="342.5" y="575.5" width="5" height="100" fill="none" stroke="#ff0000"/>
<rect x="349" y="574" width="6" height="100" fill="#008000"/>
<rect x="356" y="572" width="6" height="100" fill="#008000"/>
<rect x="363" y="570" width="6" height="100" fill="#008000"/>
<rect x="370" y="576" width="6" height="100" fill="#008000"/>
<rect x="377.5" y="577.5" width="5" height="100" fill="none" stroke="#ff0000"/>
<rect x="384" y="577" width="6" height="100" fill="#008000"/>
<rect x="391.5" y="577.5" width="5" height="100" fill="none" stroke="#ff0000"/>
<rect x="398.5" y="569.5" width="5" height="100" fill="none" stroke="#ff0000"/>
<rect x="405.5" y="572.5" width="5" height="100" fill="none" stroke="#ff0000"/>
<rect x="412.5" y="573.5" width="5" height="100" fill="none" stroke="#ff0000"/>
<rect x="419.5" y="558.5" width="5" height="100" fill="none" stroke="#ff0000"/>
<rect x="426.5" y="550.5" width="5" height="100" fill="none" stroke="#ff0000"/>
<rect x="433" y="565" width="6" height="100" fill="#008000"/>
<rect x="440.5" y="558.5" width="5" height="100" fill="none" stroke="#ff0000"/>
<rect x="447.5" y="546.5" width="5" height="100" fill="none" stroke="#ff0000"/>
<rect x="454" y="563" width="6" height="100" fill="#008000"/>
<rect x="461" y="562" width="6" height="100" fill="#008000"/>
<rect x="468" y="565" width="6" height="100" fill="#008000"/>
<rect x="475.5" y="570.5" width="5" height="100" fill="none" stroke="#ff0000"/>
<rect x="482" y="570" width="6" height="100" fill="#008000"/>
<rect x="489" y="569" width="6" height="100" fill="#008000"/>
<rect x="496.5" y="572.5" width="5" height="100" fill="none" stroke="#ff0000"/>
<rect x="503.5" y="567.5" width="5" height="100" fill="none" stroke="#ff0000"/>
<rect x="510.5" y="559.5" width="5" height="100" fill="none" stroke="#ff0000"/>
<rect x="517.5" y="552.5" width="5" height="100" fill="none" stroke="#ff0000"/>
<rect x="524.5" y="555.5" width="5" height="100" fill="none" stroke="#ff0000"/>
<rect x="531" y="557" width="6" height="100" fill="#008000"/>
<rect x="538.5" y="551.5" width="5" height="100" fill="none" stroke="#ff0000"/>
<rect x="545.5" y="546.5" width="5" height="100" fill="none" stroke="#ff0000"/>
<rect x="552.5" y="523.5" width="5" height="100" fill="none" stroke="#ff0000"/>
<rect x="559" y="546" width="6" height="100" fill="#008000"/>
<rect x="566" y="557" width="6" height="100" fill="#008000"/>
<rect x="573.5" y="565.5" width="5" height="100" fill="none" stroke="#ff0000"/>
<rect x="580.5" y="555.5" width="5" height="100" fill="none" stroke="#ff0000"/>
<rect x="587" y="547" width="6" height="100" fill="#008000"/>
<rect x="594.5" y="559.5" width="5" height="100" fill="none" stroke="#ff0000"/>
<rect x="601.5" y="547.5" width="5" height="100" fill="none" stroke="#ff0000"/>
<rect x="608.5" y="553.5" width="5" height="100" fill="none" stroke="#ff0000"/>
<rect x="615.5" y="545.5" width="5" height="100" fill="none" stroke="#ff0000"/>
<rect x="622" y="549" width="6" height="100" fill="#008000"/>
<rect x="629" y="555" width="6" height="100" fill="#008000"/>
<rect x="636.5" y="560.5" width="5" height="100" fill="none" stroke="#ff0000"/>
<rect x="643.5" y="546.5" width="5" height="100" fill="none" stroke="#ff0000"/>
<rect x="650.5" y="534.5" width="5" height="100" fill="none" stroke="#ff0000"/>
<rect x="657" y="537" width="6" height="100" fill="#008000"/>
<rect x="664.5" y="522.5" width="5" height="100" fill="none" stroke="#ff0000"/>
<rect x="671" y="502" width="6" height="100" fill="#008000"/>
<rect x="678" y="533" width="6" height="100" fill="#008000"/>
<rect x="685.5" y="551.5" width="5" height="100" fill="none" stroke="#ff0000"/>
<rect x="692" y="546" width="6" height="100" fill="#008000"/>
<rect x="699" y="549" width="6" height="100" fill="#008000"/>
<rect x="706.5" y="553.5" width="5" height="100" fill="none" stroke="#ff0000"/>
<rect x="713" y="554" width="6" height="100" fill="#008000"/>
<rect x="720.5" y="514.5" width="5" height="100" fill="none" stroke="#ff0000"/>
<rect x="727" y="547" width="6" height="100" fill="#008000"/>
<rect x="734" y="557" width="6" height="100" fill="#008000"/>
<rect x="741.5" y="565.5" width="5" height="100" fill="none" stroke="#ff0000"/>
<rect x="748" y="554" width="6" height="100" fill="#008000"/>
<rect x="755" y="562" width="6" height="100" fill="#008000"/>
<rect x="762" y="566" width="6" height="100" fill="#008000"/>
<rect x="769.5" y="566.5" width="5" height="100" fill="none" stroke="#ff0000"/>
<rect x="776.5" y="561.5" width="5" height="100" fill="none" stroke="#ff0000"/>
<rect x="783" y="560" width="6" height="100" fill="#008000"/>
<rect x="790.5" y="555.5" width="5" height="100" fill="none" stroke="#ff0000"/>
<rect x="797" y="548" width="6" height="100" fill="#008000"/>
<rect x="804" y="562" width="6" height="100" fill="#008000"/>
<rect x="811" y="567" width="6" height="100" fill="#008000"/>
<rect x="818.5" y="562.5" width="5" height="100" fill="none" stroke="#ff0000"/>
<rect x="825.5" y="555.5" width="5" height="100" fill="none" stroke="#ff0000"/>
<rect x="832.5" y="548.5" width="5" height="100" fill="none" stroke="#ff0000"/>
<rect x="839.5" y="536.5" width="5" height="100" fill="none" stroke="#ff0000"/>
<rect x="846.5" y="526.5" width="5" height="100" fill="none" stroke="#ff0000"/>
<rect x="853.5" y="528.5" width="5" height="100" fill="none" stroke="#ff0000"/>
<rect x="860.5" y="526.5" width="5" height="100" fill="none" stroke="#ff0000"/>
<rect x="156" y="508" width="3" height="1" fill="#00ffff"/>
<rect x="671" y="508" width="3" height="1" fill="#ff80ff"/>
</g>
<polygon points="845.9,206 857.6,209.5 858,214.6 868.6,229.5 853.9,217.8 850,216.8" fill="#ff0000"/>
<polygon points="819,250.2 828.6,253.6 827.5,257.5 831.8,265.6 825,259 821.7,259.6" fill="#ff0000"/>
<text x="838" y="275.7" fill="#ff0000" style="font-family:'Noto Serif CJK SC','Noto Sans CJK SC',serif;font-size:18.5px;font-weight:400" textLength="93" lengthAdjust="spacing">最佳入场点</text>
<text x="922" y="565" fill="#ff0000" style="font-family:'Noto Serif CJK SC',serif;font-size:27px;font-weight:300;letter-spacing:4.7px">赢家财富网</text>
</svg></body></html>
